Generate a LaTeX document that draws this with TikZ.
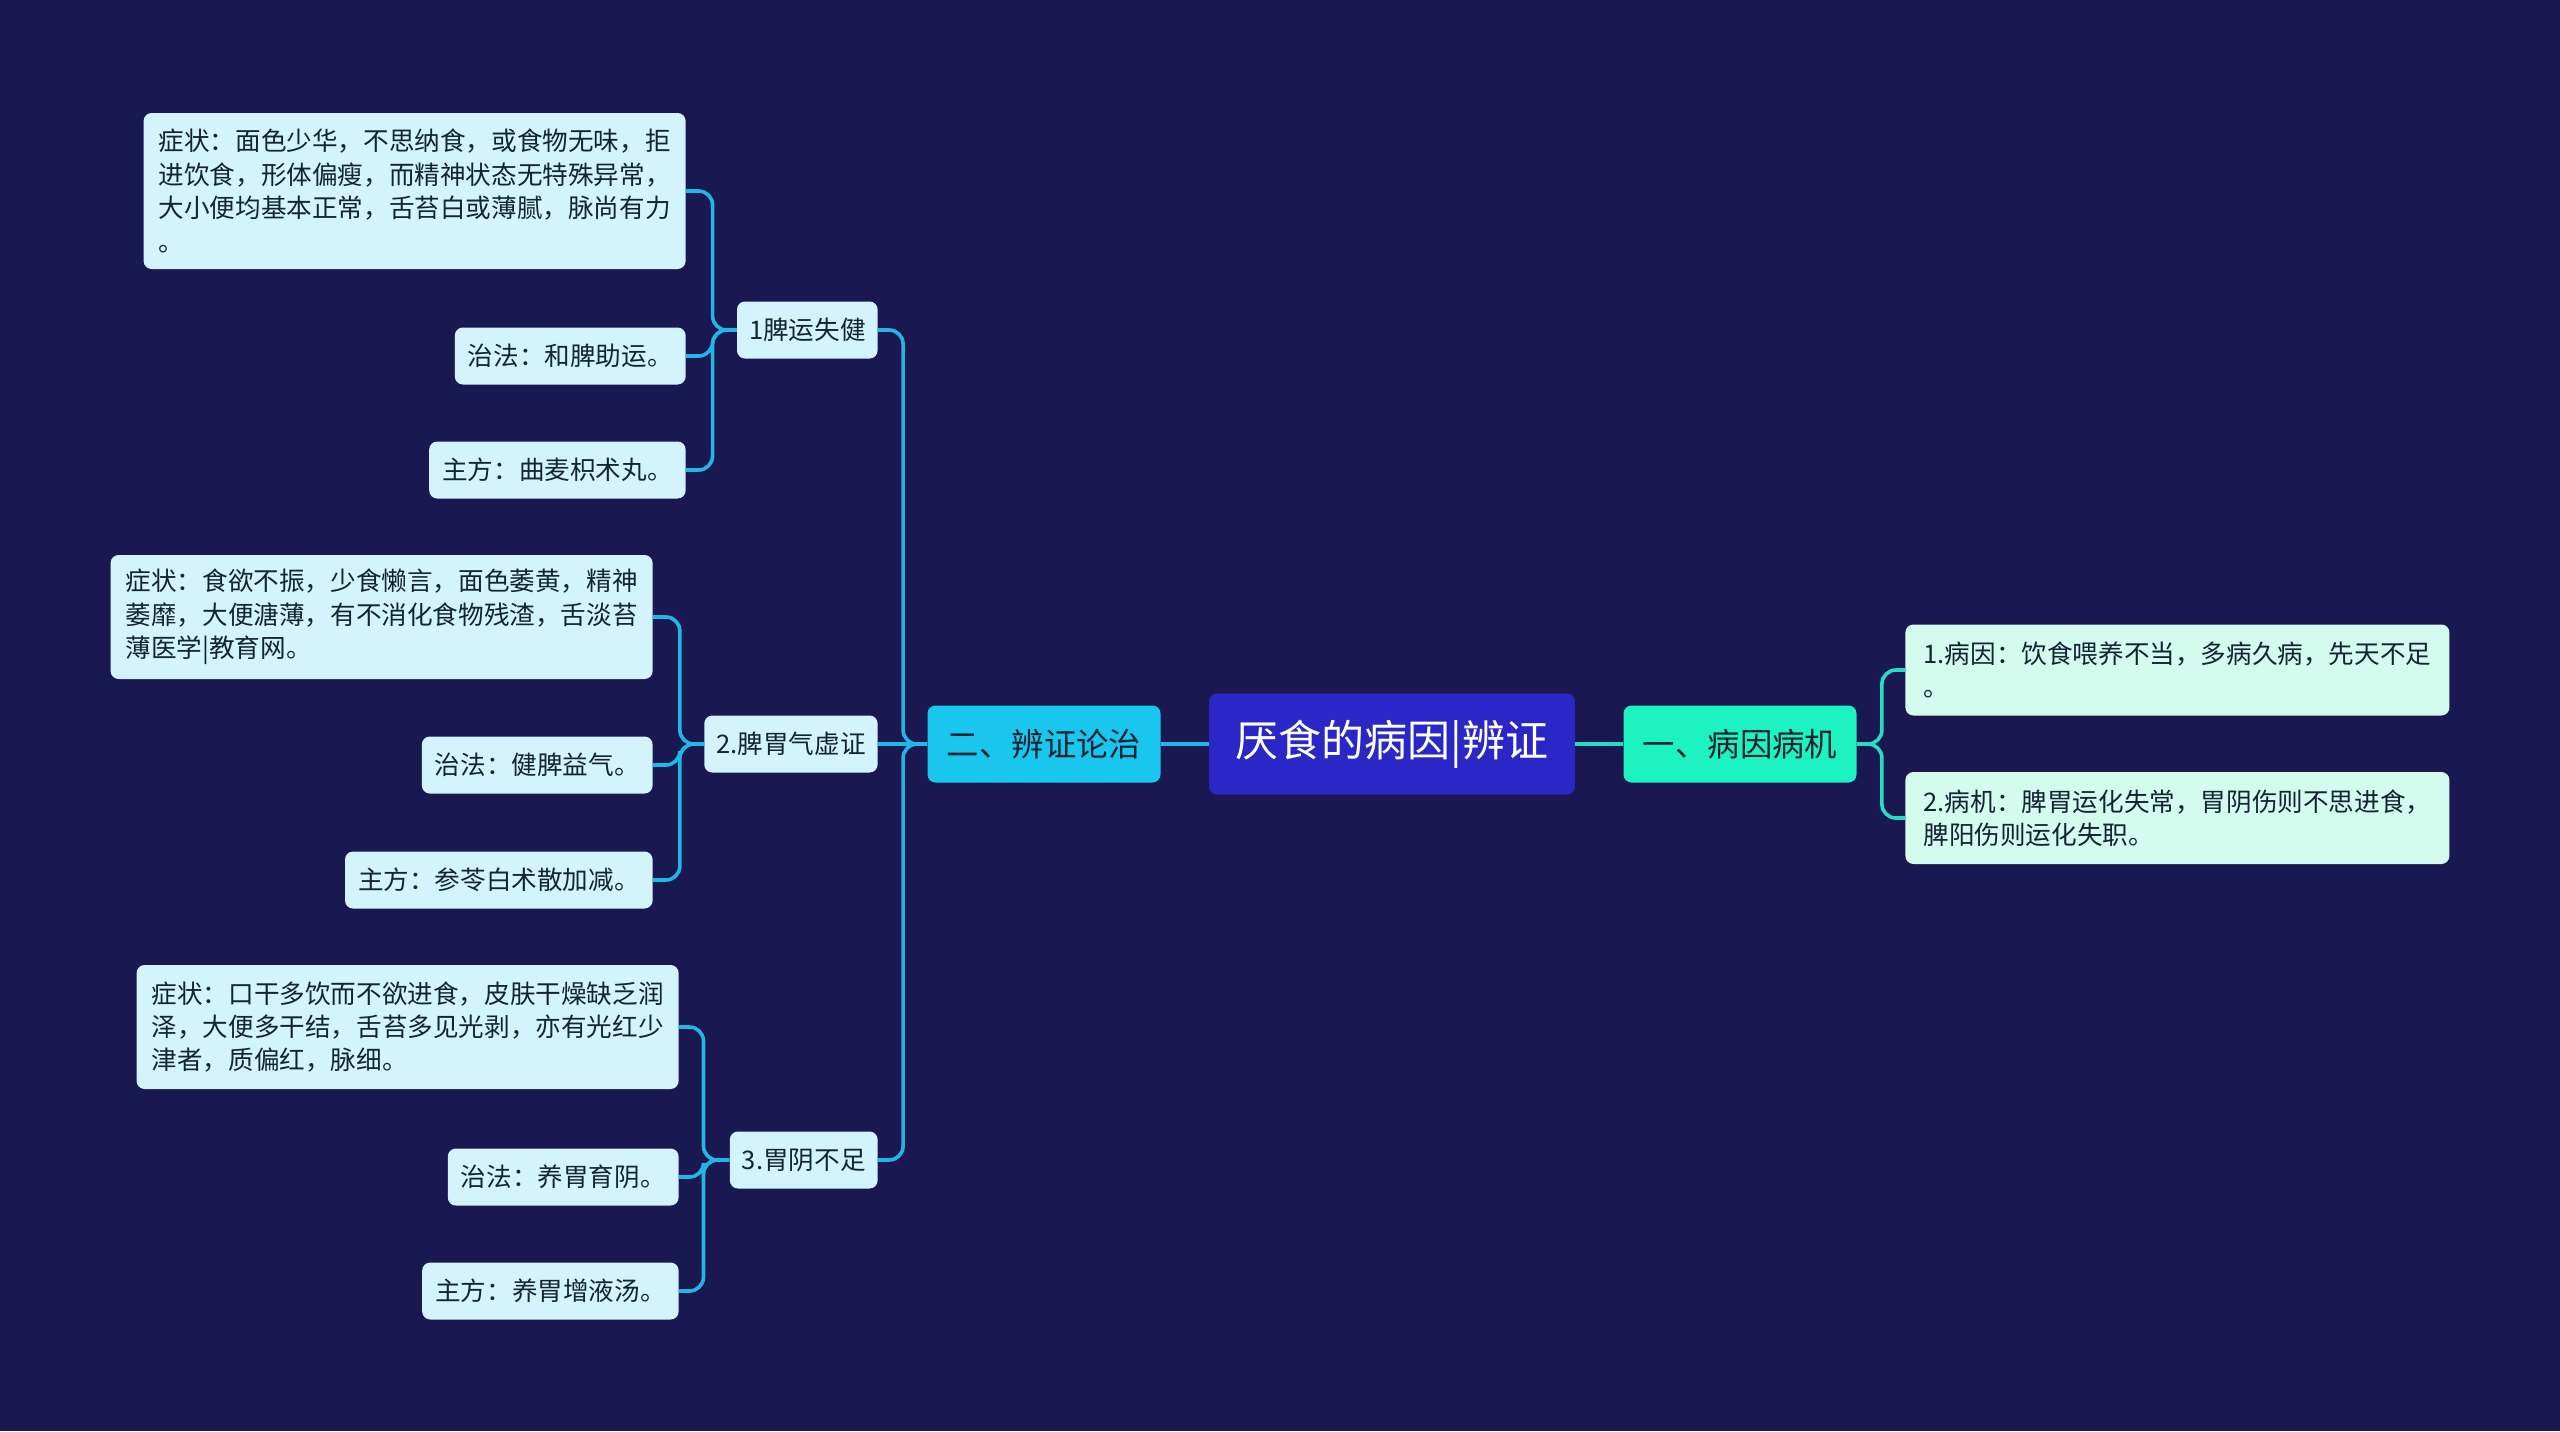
\documentclass[tikz,border=0pt]{standalone}
\usepackage{fontspec}
\setmainfont{Noto Sans CJK SC}
\usetikzlibrary{positioning}
\definecolor{NightBg}{HTML}{1A1850}
\definecolor{RootBlue}{HTML}{2A27C6}
\definecolor{SkyFill}{HTML}{18C6EE}
\definecolor{MintFill}{HTML}{1CF2C2}
\definecolor{SkyLeaf}{HTML}{D3F4FC}
\definecolor{MintLeaf}{HTML}{D3FCEE}
\definecolor{SkyLine}{HTML}{22B6E8}
\definecolor{MintLine}{HTML}{26DCC2}
\definecolor{InkDark}{HTML}{142433}
\tikzset{
  root node/.style={fill=RootBlue,text=white,rounded corners=4pt,
    font=\fontsize{21.5pt}{26pt}\selectfont,minimum width=183pt,minimum height=50.5pt},
  branch node/.style={text=InkDark,rounded corners=4pt,
    font=\fontsize{16.2pt}{20pt}\selectfont,minimum width=116.5pt,minimum height=38.5pt},
  group node/.style={fill=SkyLeaf,text=InkDark,rounded corners=4pt,anchor=east,
    font=\fontsize{12.8pt}{16.7pt}\selectfont,inner xsep=6pt,minimum height=28.5pt},
  leaf node/.style={fill=SkyLeaf,text=InkDark,rounded corners=4pt,anchor=east,align=left,
    font=\fontsize{12.8pt}{16.7pt}\selectfont,inner xsep=6.5pt,inner ysep=6.5pt,minimum height=28.5pt},
  sky link/.style={draw=SkyLine,line width=1.8pt,rounded corners=7pt},
  mint link/.style={draw=MintLine,line width=1.8pt,rounded corners=7pt}
}

\begin{document}
\begin{tikzpicture}[x=0.5pt,y=-0.5pt]
  \fill[NightBg] (0,0) rectangle (2560,1431);
  \useasboundingbox (0,0) rectangle (2560,1431);

  % centre and first level
  \node[root node] (root) at (1392,744) {厌食的病因|辨证};
  \node[branch node,fill=SkyFill] (diag) at (1044,744) {二、辨证论治};
  \node[branch node,fill=MintFill] (cause) at (1740,744) {一、病因病机};
  \draw[sky link] (root.west) -- (diag.east);
  \draw[mint link] (root.east) -- (cause.west);

  % right side
  \node[leaf node,fill=MintLeaf,anchor=west,minimum width=272pt,minimum height=45.5pt] (cause1) at (1905,670)
    {1.病因：饮食喂养不当，多病久病，先天不足\\。};
  \node[leaf node,fill=MintLeaf,anchor=west,minimum width=272pt,minimum height=46pt] (cause2) at (1905,818)
    {2.病机：脾胃运化失常，胃阴伤则不思进食，\\脾阳伤则运化失职。};
  \foreach \c in {cause1,cause2}
    \draw[mint link] (cause.east) -- ++(25,0) |- (\c.west);

  % left side, three patterns
  \node[group node] (spleen) at (878,330) {1脾运失健};
  \node[group node] (qi) at (878,744) {2.脾胃气虚证};
  \node[group node] (yin) at (878,1160) {3.胃阴不足};
  \foreach \g in {spleen,yin}
    \draw[sky link] (diag.west) -- ++(-24,0) |- (\g.east);
  \draw[sky link] (diag.west) -- (qi.east);

  % pattern 1
  \node[leaf node,minimum width=271pt,minimum height=78pt] (spleenA) at (686,191)
    {症状：面色少华，不思纳食，或食物无味，拒\\进饮食，形体偏瘦，而精神状态无特殊异常，\\大小便均基本正常，舌苔白或薄腻，脉尚有力\\。};
  \node[leaf node] (spleenB) at (686,356) {治法：和脾助运。};
  \node[leaf node] (spleenC) at (686,470) {主方：曲麦枳术丸。};

  % pattern 2
  \node[leaf node,minimum width=271pt,minimum height=62pt] (qiA) at (653,617)
    {症状：食欲不振，少食懒言，面色萎黄，精神\\萎靡，大便溏薄，有不消化食物残渣，舌淡苔\\薄医学|教育网。};
  \node[leaf node] (qiB) at (653,765) {治法：健脾益气。};
  \node[leaf node] (qiC) at (653,880) {主方：参苓白术散加减。};

  % pattern 3
  \node[leaf node,minimum width=271pt,minimum height=62pt] (yinA) at (679,1027)
    {症状：口干多饮而不欲进食，皮肤干燥缺乏润\\泽，大便多干结，舌苔多见光剥，亦有光红少\\津者，质偏红，脉细。};
  \node[leaf node] (yinB) at (679,1177) {治法：养胃育阴。};
  \node[leaf node] (yinC) at (679,1291) {主方：养胃增液汤。};

  \foreach \p/\d in {spleen/24,qi/24,yin/26}
    \foreach \s in {A,B,C}
      \draw[sky link] (\p.west) -- ++(-\d,0) |- (\p\s.east);
\end{tikzpicture}
\end{document}
